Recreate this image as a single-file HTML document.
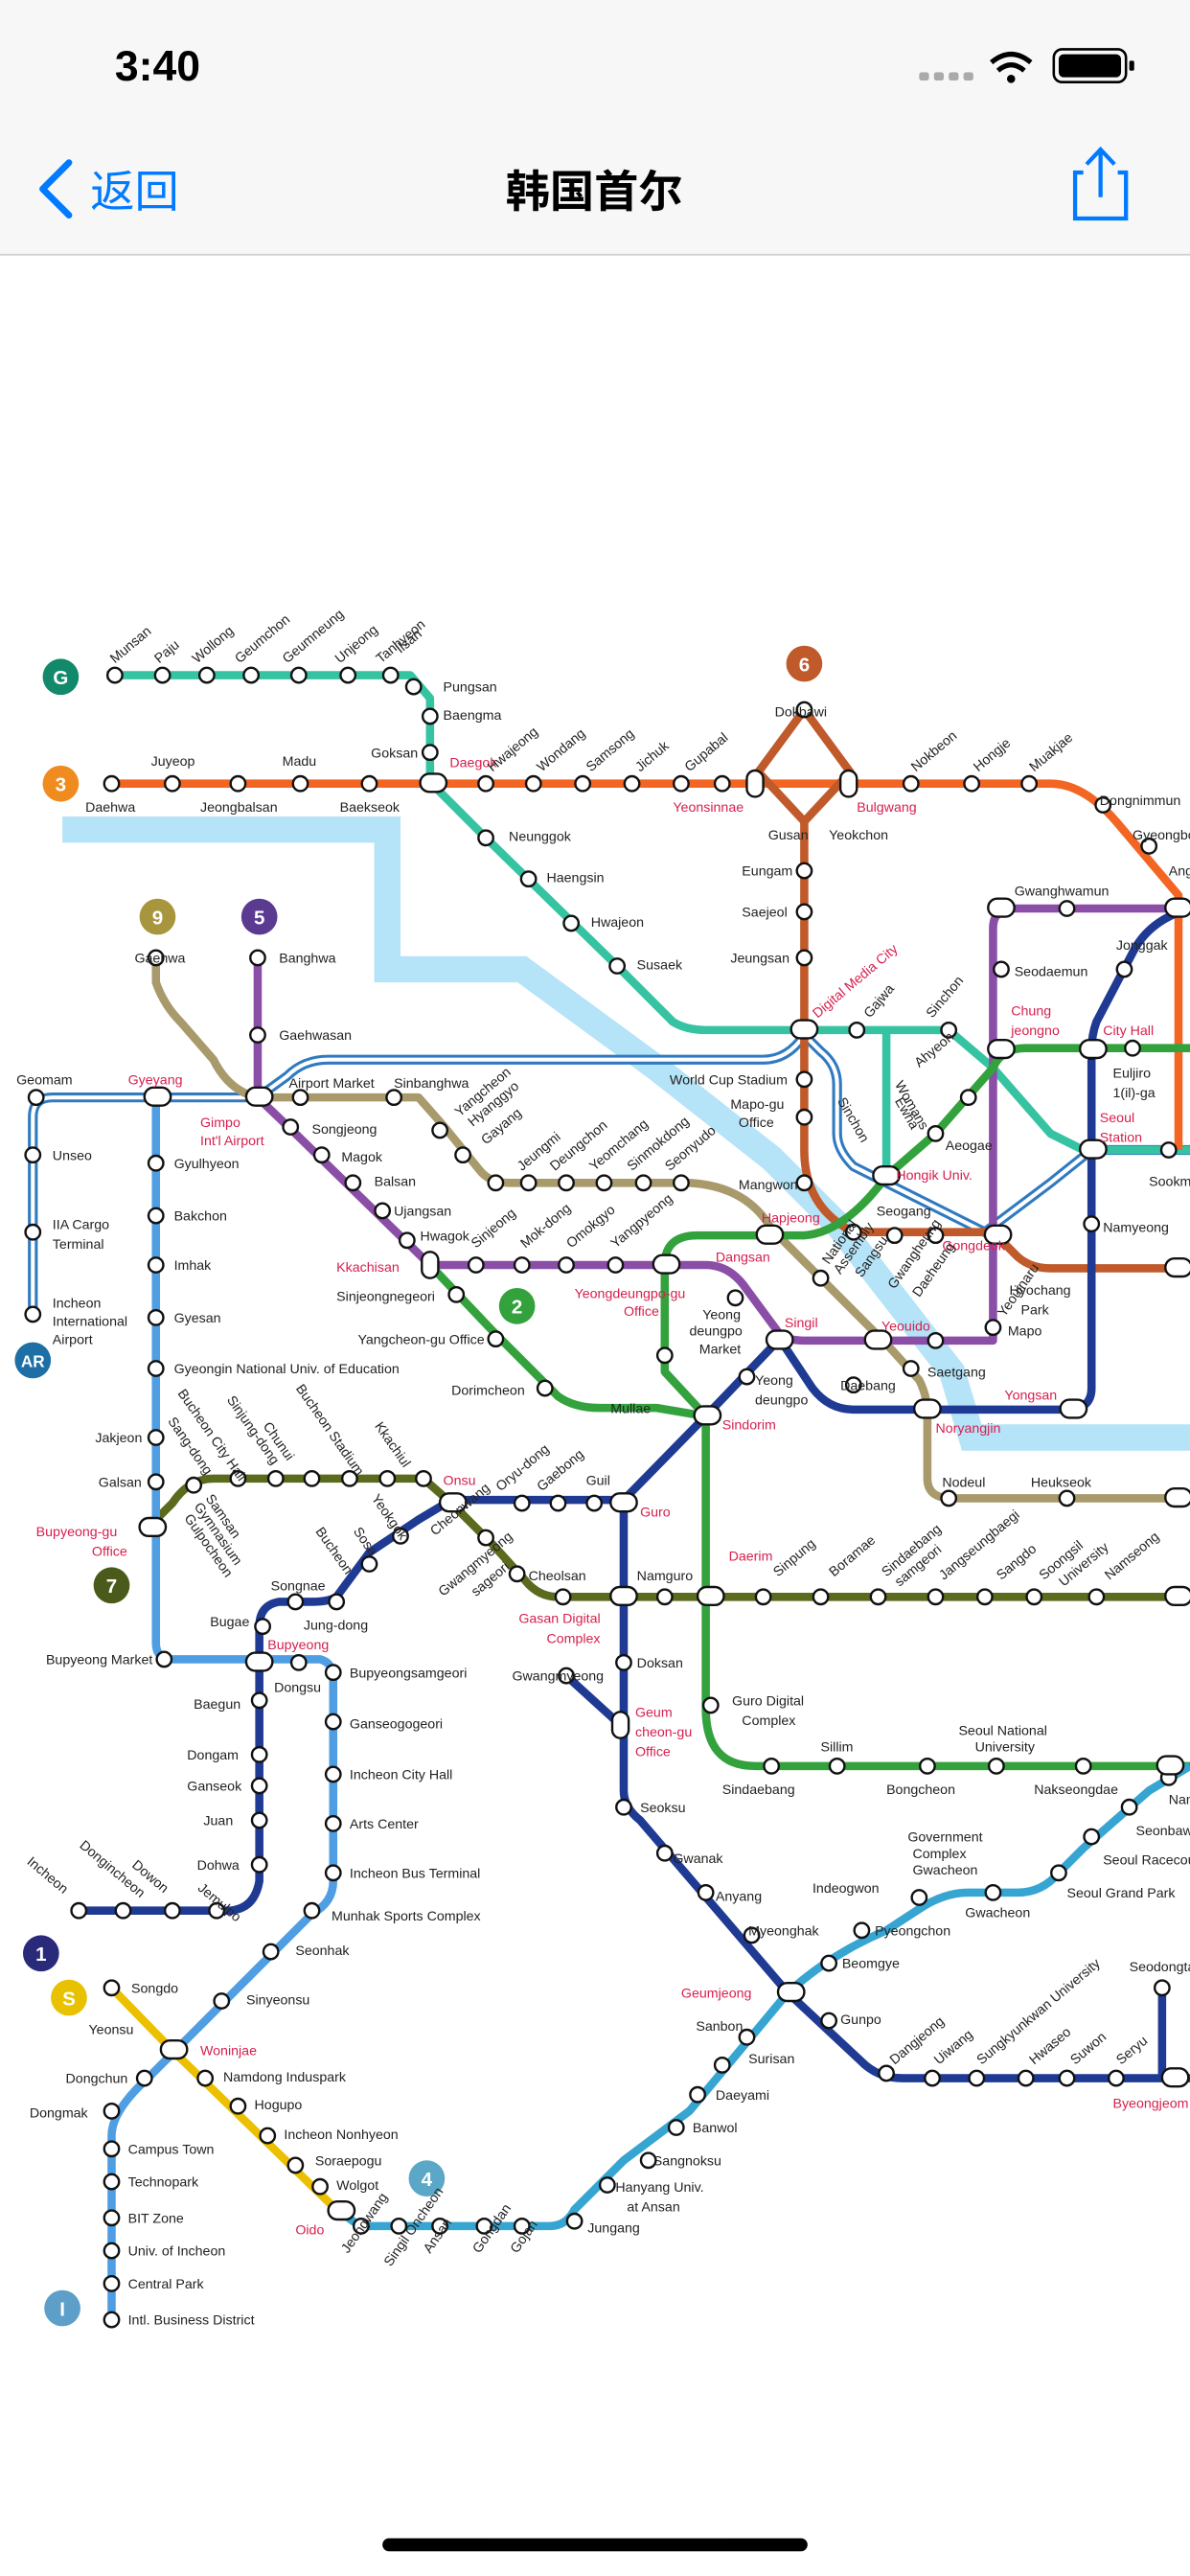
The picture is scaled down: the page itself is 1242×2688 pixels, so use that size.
<!DOCTYPE html>
<html><head><meta charset="utf-8"><style>
html,body{margin:0;padding:0;background:#fff;}
body{width:1242px;height:2688px;overflow:hidden;}
svg{display:block;}
text{font-family:"Liberation Sans","Noto Sans CJK SC",sans-serif;font-size:8.3px;fill:#222;}
.r{fill:#d6204e;}
.s{fill:#fff;stroke:#111;stroke-width:1.4;}
.o{fill:#fff;stroke:#111;stroke-width:1.4;}
.b{font-weight:bold;fill:#fff;font-size:12px;text-anchor:middle;}
</style></head><body>
<svg width="1242" height="2688" viewBox="0 0 725 1568" preserveAspectRatio="none">
<rect x="0" y="0" width="725" height="155" fill="#f7f7f7"/>
<line x1="0" y1="155" x2="725" y2="155" stroke="#cfcfcf" stroke-width="1"/>
<text x="70" y="49" style="font-size:26px;font-weight:bold;fill:#000">3:40</text>
<g fill="#aaa"><rect x="560" y="44" width="6" height="5" rx="1.5"/><rect x="569" y="44" width="6" height="5" rx="1.5"/><rect x="578" y="44" width="6" height="5" rx="1.5"/><rect x="587" y="44" width="6" height="5" rx="1.5"/></g>
<path d="M604,38 Q616,28 628,38" stroke="#000" stroke-width="3" fill="none"/><path d="M608,43 Q616,36 624,43" stroke="#000" stroke-width="3" fill="none"/><circle cx="616" cy="48" r="2.5" fill="#000"/>
<rect x="642" y="30" width="44" height="20" rx="5" fill="none" stroke="#000" stroke-width="1.5"/><rect x="645" y="33" width="38" height="14" rx="3" fill="#000"/><rect x="688" y="37" width="3" height="6" rx="1" fill="#000"/>
<path d="M42,99 L26,115 L42,131" stroke="#007aff" stroke-width="4" fill="none" stroke-linecap="round" stroke-linejoin="round"/>
<text x="55" y="126" style="font-size:27px;fill:#007aff">返回</text>
<text x="362" y="126" text-anchor="middle" style="font-size:27px;font-weight:bold;fill:#000">韩国首尔</text>
<path d="M660,105 H655 V133 H686 V105 H681" stroke="#007aff" stroke-width="2.5" fill="none"/><path d="M670.5,120 V92 M662,100 L670.5,91 L679,100" stroke="#007aff" stroke-width="2.5" fill="none"/>

<!-- river -->
<path d="M38,505 H236 V590 H318 L400,650 L470,705 L510,745 L545,790 L580,835 L592,875 H725" stroke="#b5e3f8" stroke-width="16" fill="none"/>

<g fill="none" stroke-linejoin="round" stroke-width="5">
<!-- AREX -->
<path d="M20,800 V680 Q20,668 32,668 H157 L175,655 Q185,645 200,645 H465 Q480,645 490,630 L500,640 Q510,648 510,660 V690 Q510,700 520,710 L600,750 L640,720 L665,700 H725" stroke="#2f7ac0" stroke-width="6"/>
<path d="M20,800 V680 Q20,668 32,668 H157 L175,655 Q185,645 200,645 H465 Q480,645 490,630 L500,640 Q510,648 510,660 V690 Q510,700 520,710 L600,750 L640,720 L665,700 H725" stroke="#fff" stroke-width="2.4"/>
<!-- G -->
<path d="M65,411 H250 L262,425 V476 L296,510 L376,588 L410,622 Q418,627 430,627 H578 L605,650 L640,690 L660,700 H725" stroke="#35c3a2"/>
<path d="M540,627 V716" stroke="#35c3a2"/>
<!-- 3 -->
<path d="M65,477 H640 Q660,477 680,500 L718,545 V700" stroke="#f26522"/>
<!-- 6 -->
<path d="M490,432 L462,470 L490,500 L518,470 Z" stroke="#c05a2a"/>
<path d="M490,500 V700 Q490,735 520,750 H605 L620,765 Q628,772 640,772 H725" stroke="#c05a2a"/>
<!-- 9 -->
<path d="M95,585 V598 Q100,612 110,622 L130,645 Q140,665 158,668 H255 L270,685 L292,712 Q298,720 310,720 H420 Q455,722 470,748 L500,778 L540,818 L560,840 Q565,850 565,860 V900 Q565,912 580,912 H725" stroke="#a99a6c"/>
<!-- 5 -->
<path d="M157,583 V668 L180,690 L262,770 H430 Q445,770 455,785 L475,812 Q480,816 490,816 H605 V565 Q605,553 618,553 H725" stroke="#8b4ea6"/>
<!-- 2 -->
<path d="M262,770 L300,810 L340,850 Q350,857 365,857 H400 L430,862" stroke="#33a23d"/>
<path d="M430,862 L405,835 V770 Q405,752 425,752 H490 Q515,750 540,716 L570,690 L605,650 Q610,638 625,638 H725" stroke="#33a23d"/>
<path d="M430,862 V1040 Q430,1075 460,1075 H725" stroke="#33a23d"/>
<!-- 7 -->
<path d="M90,930 L105,915 Q115,900 130,900 H258 L275,915 L300,940 L320,962 Q328,972 340,972 H725" stroke="#5b6b1e"/>
<!-- 4 -->
<path d="M725,1075 L700,1090 L660,1125 L645,1140 Q635,1152 620,1152 H590 Q575,1152 560,1162 L540,1175 Q505,1190 480,1213 L420,1285 L380,1315 L350,1345 Q345,1355 335,1355 H225 Q215,1355 208,1345" stroke="#36a5d2"/>
<!-- I1 -->
<path d="M95,668 V1000 Q95,1010 105,1010 H195 Q203,1012 203,1022 V1145 Q203,1158 190,1165 L90,1265 Q68,1285 68,1300 V1412" stroke="#4f9ee3"/>
<!-- Suin -->
<path d="M68,1210 L105,1248 L208,1348" stroke="#ecc000"/>
<!-- 1 -->
<path d="M725,553 Q700,560 690,580 L668,622 Q665,630 665,640 V845 Q665,858 650,858 H520 Q505,858 495,845 L475,815 L430,862 L380,913 V1090 Q380,1100 390,1108 L480,1213 L525,1255 Q535,1265 550,1265 H725" stroke="#1f3a93"/>
<path d="M380,913 H275 L255,925 L225,945 L205,972 Q200,975 190,975 H170 Q158,977 158,990 V1145 Q155,1162 140,1163 H45" stroke="#1f3a93"/>
<path d="M345,1020 L378,1050 M708,1210 V1265" stroke="#1f3a93"/>
</g>

<!-- stations -->
<g class="s">
<circle cx="70" cy="411" r="4.5"/><circle cx="99" cy="411" r="4.5"/><circle cx="126" cy="411" r="4.5"/><circle cx="153" cy="411" r="4.5"/><circle cx="182" cy="411" r="4.5"/><circle cx="212" cy="411" r="4.5"/><circle cx="238" cy="411" r="4.5"/><circle cx="252" cy="418" r="4.5"/><circle cx="262" cy="436" r="4.5"/><circle cx="262" cy="458" r="4.5"/>
<circle cx="296" cy="510" r="4.5"/><circle cx="322" cy="535" r="4.5"/><circle cx="348" cy="562" r="4.5"/><circle cx="376" cy="588" r="4.5"/><circle cx="522" cy="627" r="4.5"/><circle cx="578" cy="627" r="4.5"/>
<circle cx="68" cy="477" r="4.5"/><circle cx="105" cy="477" r="4.5"/><circle cx="145" cy="477" r="4.5"/><circle cx="183" cy="477" r="4.5"/><circle cx="225" cy="477" r="4.5"/><circle cx="296" cy="477" r="4.5"/><circle cx="325" cy="477" r="4.5"/><circle cx="355" cy="477" r="4.5"/><circle cx="385" cy="477" r="4.5"/><circle cx="415" cy="477" r="4.5"/><circle cx="440" cy="477" r="4.5"/><circle cx="555" cy="477" r="4.5"/><circle cx="592" cy="477" r="4.5"/><circle cx="627" cy="477" r="4.5"/><circle cx="672" cy="490" r="4.5"/><circle cx="700" cy="515" r="4.5"/>
<circle cx="490" cy="432" r="4.5"/><circle cx="490" cy="530" r="4.5"/><circle cx="490" cy="555" r="4.5"/><circle cx="490" cy="583" r="4.5"/><circle cx="490" cy="657" r="4.5"/><circle cx="490" cy="680" r="4.5"/><circle cx="490" cy="720" r="4.5"/><circle cx="520" cy="750" r="4.5"/><circle cx="545" cy="752" r="4.5"/><circle cx="570" cy="752" r="4.5"/>
<circle cx="95" cy="583" r="4.5"/><circle cx="183" cy="668" r="4.5"/><circle cx="240" cy="668" r="4.5"/><circle cx="268" cy="688" r="4.5"/><circle cx="282" cy="703" r="4.5"/><circle cx="302" cy="720" r="4.5"/><circle cx="322" cy="720" r="4.5"/><circle cx="345" cy="720" r="4.5"/><circle cx="368" cy="720" r="4.5"/><circle cx="392" cy="720" r="4.5"/><circle cx="415" cy="720" r="4.5"/><circle cx="500" cy="778" r="4.5"/><circle cx="555" cy="833" r="4.5"/><circle cx="578" cy="912" r="4.5"/><circle cx="650" cy="912" r="4.5"/>
<circle cx="157" cy="583" r="4.5"/><circle cx="157" cy="630" r="4.5"/><circle cx="177" cy="686" r="4.5"/><circle cx="196" cy="703" r="4.5"/><circle cx="215" cy="720" r="4.5"/><circle cx="233" cy="737" r="4.5"/><circle cx="248" cy="755" r="4.5"/><circle cx="290" cy="770" r="4.5"/><circle cx="318" cy="770" r="4.5"/><circle cx="345" cy="770" r="4.5"/><circle cx="375" cy="770" r="4.5"/><circle cx="448" cy="790" r="4.5"/><circle cx="570" cy="816" r="4.5"/><circle cx="605" cy="808" r="4.5"/><circle cx="610" cy="590" r="4.5"/><circle cx="650" cy="553" r="4.5"/>
<circle cx="278" cy="788" r="4.5"/><circle cx="302" cy="815" r="4.5"/><circle cx="332" cy="845" r="4.5"/><circle cx="405" cy="825" r="4.5"/><circle cx="570" cy="690" r="4.5"/><circle cx="590" cy="668" r="4.5"/><circle cx="690" cy="638" r="4.5"/>
<circle cx="433" cy="1038" r="4.5"/><circle cx="470" cy="1075" r="4.5"/><circle cx="510" cy="1075" r="4.5"/><circle cx="565" cy="1075" r="4.5"/><circle cx="607" cy="1075" r="4.5"/><circle cx="660" cy="1075" r="4.5"/><circle cx="712" cy="1075" r="4.5"/>
<circle cx="685" cy="590" r="4.5"/><circle cx="665" cy="745" r="4.5"/><circle cx="520" cy="843" r="4.5"/><circle cx="455" cy="838" r="4.5"/><circle cx="362" cy="915" r="4.5"/><circle cx="340" cy="915" r="4.5"/><circle cx="318" cy="915" r="4.5"/><circle cx="244" cy="935" r="4.5"/><circle cx="225" cy="952" r="4.5"/><circle cx="205" cy="975" r="4.5"/><circle cx="180" cy="975" r="4.5"/><circle cx="160" cy="990" r="4.5"/>
<circle cx="158" cy="1035" r="4.5"/><circle cx="158" cy="1068" r="4.5"/><circle cx="158" cy="1087" r="4.5"/><circle cx="158" cy="1108" r="4.5"/><circle cx="158" cy="1135" r="4.5"/><circle cx="132" cy="1163" r="4.5"/><circle cx="105" cy="1163" r="4.5"/><circle cx="75" cy="1163" r="4.5"/><circle cx="48" cy="1163" r="4.5"/>
<circle cx="380" cy="1012" r="4.5"/><circle cx="345" cy="1020" r="4.5"/><circle cx="380" cy="1100" r="4.5"/><circle cx="405" cy="1128" r="4.5"/><circle cx="430" cy="1152" r="4.5"/><circle cx="458" cy="1178" r="4.5"/><circle cx="505" cy="1230" r="4.5"/><circle cx="540" cy="1262" r="4.5"/><circle cx="568" cy="1265" r="4.5"/><circle cx="595" cy="1265" r="4.5"/><circle cx="625" cy="1265" r="4.5"/><circle cx="650" cy="1265" r="4.5"/><circle cx="680" cy="1265" r="4.5"/><circle cx="708" cy="1210" r="4.5"/>
<circle cx="118" cy="904" r="4.5"/><circle cx="145" cy="900" r="4.5"/><circle cx="168" cy="900" r="4.5"/><circle cx="190" cy="900" r="4.5"/><circle cx="213" cy="900" r="4.5"/><circle cx="236" cy="900" r="4.5"/><circle cx="258" cy="900" r="4.5"/><circle cx="296" cy="936" r="4.5"/><circle cx="315" cy="958" r="4.5"/><circle cx="343" cy="972" r="4.5"/><circle cx="405" cy="972" r="4.5"/><circle cx="465" cy="972" r="4.5"/><circle cx="500" cy="972" r="4.5"/><circle cx="535" cy="972" r="4.5"/><circle cx="570" cy="972" r="4.5"/><circle cx="600" cy="972" r="4.5"/><circle cx="630" cy="972" r="4.5"/><circle cx="668" cy="972" r="4.5"/>
<circle cx="712" cy="1082" r="4.5"/><circle cx="688" cy="1100" r="4.5"/><circle cx="665" cy="1118" r="4.5"/><circle cx="645" cy="1140" r="4.5"/><circle cx="605" cy="1152" r="4.5"/><circle cx="560" cy="1155" r="4.5"/><circle cx="525" cy="1175" r="4.5"/><circle cx="505" cy="1195" r="4.5"/><circle cx="455" cy="1240" r="4.5"/><circle cx="440" cy="1257" r="4.5"/><circle cx="425" cy="1275" r="4.5"/><circle cx="412" cy="1295" r="4.5"/><circle cx="395" cy="1315" r="4.5"/><circle cx="370" cy="1330" r="4.5"/><circle cx="350" cy="1352" r="4.5"/><circle cx="318" cy="1355" r="4.5"/><circle cx="295" cy="1355" r="4.5"/><circle cx="268" cy="1355" r="4.5"/><circle cx="243" cy="1355" r="4.5"/><circle cx="220" cy="1355" r="4.5"/>
<circle cx="95" cy="708" r="4.5"/><circle cx="95" cy="740" r="4.5"/><circle cx="95" cy="770" r="4.5"/><circle cx="95" cy="802" r="4.5"/><circle cx="95" cy="833" r="4.5"/><circle cx="95" cy="875" r="4.5"/><circle cx="95" cy="902" r="4.5"/><circle cx="100" cy="1010" r="4.5"/><circle cx="182" cy="1012" r="4.5"/><circle cx="203" cy="1018" r="4.5"/><circle cx="203" cy="1048" r="4.5"/><circle cx="203" cy="1080" r="4.5"/><circle cx="203" cy="1110" r="4.5"/><circle cx="203" cy="1140" r="4.5"/><circle cx="190" cy="1163" r="4.5"/><circle cx="165" cy="1188" r="4.5"/><circle cx="135" cy="1218" r="4.5"/><circle cx="88" cy="1265" r="4.5"/><circle cx="68" cy="1285" r="4.5"/><circle cx="68" cy="1308" r="4.5"/><circle cx="68" cy="1328" r="4.5"/><circle cx="68" cy="1350" r="4.5"/><circle cx="68" cy="1370" r="4.5"/><circle cx="68" cy="1390" r="4.5"/><circle cx="68" cy="1412" r="4.5"/>
<circle cx="68" cy="1210" r="4.5"/><circle cx="125" cy="1265" r="4.5"/><circle cx="145" cy="1282" r="4.5"/><circle cx="163" cy="1300" r="4.5"/><circle cx="180" cy="1318" r="4.5"/><circle cx="195" cy="1331" r="4.5"/>
<circle cx="22" cy="668" r="4.5"/><circle cx="20" cy="703" r="4.5"/><circle cx="20" cy="750" r="4.5"/><circle cx="20" cy="800" r="4.5"/>
<circle cx="665" cy="640" r="4.5"/><circle cx="712" cy="700" r="4.5"/>
</g>
<!-- interchanges (ovals) -->
<g class="o">
<rect x="256" y="471" width="16" height="11" rx="5.5"/><rect x="455" y="469" width="10" height="16" rx="5"/><rect x="512" y="469" width="10" height="16" rx="5"/>
<rect x="482" y="621" width="16" height="11" rx="5.5"/><rect x="88" y="662" width="16" height="11" rx="5.5"/><rect x="150" y="662" width="16" height="11" rx="5.5"/>
<rect x="257" y="762" width="10" height="16" rx="5"/><rect x="398" y="764" width="16" height="11" rx="5.5"/><rect x="461" y="746" width="16" height="11" rx="5.5"/>
<rect x="532" y="710" width="16" height="11" rx="5.5"/><rect x="600" y="746" width="16" height="11" rx="5.5"/><rect x="602" y="633" width="16" height="11" rx="5.5"/><rect x="602" y="547" width="16" height="11" rx="5.5"/>
<rect x="658" y="633" width="16" height="11" rx="5.5"/><rect x="658" y="694" width="16" height="11" rx="5.5"/><rect x="710" y="547" width="16" height="11" rx="5.5"/><rect x="646" y="852" width="16" height="11" rx="5.5"/>
<rect x="557" y="852" width="16" height="11" rx="5.5"/><rect x="467" y="810" width="16" height="11" rx="5.5"/><rect x="527" y="810" width="16" height="11" rx="5.5"/>
<rect x="423" y="856" width="16" height="11" rx="5.5"/><rect x="372" y="909" width="16" height="11" rx="5.5"/><rect x="268" y="909" width="16" height="11" rx="5.5"/>
<rect x="372" y="966" width="16" height="11" rx="5.5"/><rect x="425" y="966" width="16" height="11" rx="5.5"/><rect x="710" y="966" width="16" height="11" rx="5.5"/>
<rect x="373" y="1042" width="10" height="16" rx="5"/><rect x="474" y="1207" width="16" height="11" rx="5.5"/><rect x="708" y="1259" width="16" height="11" rx="5.5"/>
<rect x="150" y="1006" width="16" height="11" rx="5.5"/><rect x="85" y="924" width="16" height="11" rx="5.5"/><rect x="98" y="1242" width="16" height="11" rx="5.5"/><rect x="200" y="1340" width="16" height="11" rx="5.5"/>
<rect x="705" y="1069" width="16" height="11" rx="5.5"/><rect x="710" y="766" width="16" height="11" rx="5.5"/><rect x="710" y="906" width="16" height="11" rx="5.5"/>
</g>

<!-- badges -->
<g>
<circle cx="37" cy="412" r="11" fill="#12896a"/><text x="37" y="416.5" class="b">G</text>
<circle cx="37" cy="477" r="11" fill="#f08c1f"/><text x="37" y="481.5" class="b">3</text>
<circle cx="490" cy="404" r="11" fill="#c05a2a"/><text x="490" y="408.5" class="b">6</text>
<circle cx="96" cy="558" r="11" fill="#a8963f"/><text x="96" y="562.5" class="b">9</text>
<circle cx="158" cy="558" r="11" fill="#5b3a91"/><text x="158" y="562.5" class="b">5</text>
<circle cx="315" cy="795" r="11" fill="#33a23d"/><text x="315" y="799.5" class="b">2</text>
<circle cx="68" cy="965" r="11" fill="#4a5a1a"/><text x="68" y="969.5" class="b">7</text>
<circle cx="25" cy="1189" r="11" fill="#2a2a7a"/><text x="25" y="1193.5" class="b">1</text>
<circle cx="42" cy="1216" r="11" fill="#e8c200"/><text x="42" y="1220.5" class="b">S</text>
<circle cx="260" cy="1326" r="11" fill="#5aa7c8"/><text x="260" y="1330.5" class="b">4</text>
<circle cx="38" cy="1405" r="11" fill="#5d9fc9"/><text x="38" y="1409.5" class="b">I</text>
<circle cx="20" cy="828" r="11" fill="#1e6fa5"/><text x="20" y="832" class="b" style="font-size:10px">AR</text>
</g>

<!-- labels -->
<g>
<text transform="translate(70,404) rotate(-40)">Munsan</text><text transform="translate(97,404) rotate(-40)">Paju</text><text transform="translate(120,404) rotate(-40)">Wollong</text><text transform="translate(146,404) rotate(-40)">Geumchon</text><text transform="translate(175,404) rotate(-40)">Geumneung</text><text transform="translate(207,404) rotate(-40)">Unjeong</text><text transform="translate(232,404) rotate(-40)">Tanhyeon</text><text transform="translate(244,398) rotate(-40)">Ilsan</text>
<text x="270" y="421">Pungsan</text><text x="270" y="438">Baengma</text><text x="226" y="461">Goksan</text><text x="274" y="467" class="r">Daegok</text>
<text x="310" y="512">Neunggok</text><text x="333" y="537">Haengsin</text><text x="360" y="564">Hwajeon</text><text x="388" y="590">Susaek</text>
<text x="52" y="494">Daehwa</text><text x="92" y="466">Juyeop</text><text x="122" y="494">Jeongbalsan</text><text x="172" y="466">Madu</text><text x="207" y="494">Baekseok</text>
<text transform="translate(300,470) rotate(-40)">Hwajeong</text><text transform="translate(330,470) rotate(-40)">Wondang</text><text transform="translate(360,470) rotate(-40)">Samsong</text><text transform="translate(390,470) rotate(-40)">Jichuk</text><text transform="translate(420,470) rotate(-40)">Gupabal</text>
<text x="410" y="494" class="r">Yeonsinnae</text><text x="522" y="494" class="r">Bulgwang</text><text x="468" y="511">Gusan</text><text x="505" y="511">Yeokchon</text><text x="472" y="436">Dokbawi</text>
<text transform="translate(558,470) rotate(-40)">Nokbeon</text><text transform="translate(596,470) rotate(-40)">Hongje</text><text transform="translate(630,470) rotate(-40)">Muakjae</text><text x="670" y="490">Dongnimmun</text><text x="690" y="511">Gyeongbokgung</text><text x="712" y="533">Anguk</text>
<text x="452" y="533">Eungam</text><text x="452" y="558">Saejeol</text><text x="445" y="586">Jeungsan</text>
<text transform="translate(498,620) rotate(-40)" class="r">Digital Media City</text><text transform="translate(530,620) rotate(-50)">Gajwa</text><text transform="translate(568,620) rotate(-50)">Sinchon</text>
<text x="408" y="660">World Cup Stadium</text><text x="445" y="675">Mapo-gu</text><text x="450" y="686">Office</text><text x="450" y="724">Mangwon</text><text x="464" y="744" class="r">Hapjeong</text>
<text x="436" y="768" class="r">Dangsan</text><text x="534" y="740">Seogang</text><text x="574" y="761" class="r">Gongdeok</text><text x="546" y="718" class="r">Hongik Univ.</text>
<text x="82" y="586">Gaehwa</text><text x="170" y="586">Banghwa</text><text x="170" y="633">Gaehwasan</text><text x="176" y="662">Airport Market</text><text x="240" y="662">Sinbanghwa</text>
<text x="122" y="686" class="r">Gimpo</text><text x="122" y="697" class="r">Int'l Airport</text><text x="190" y="690">Songjeong</text><text x="208" y="707">Magok</text><text x="228" y="722">Balsan</text><text x="240" y="740">Ujangsan</text><text x="256" y="755">Hwagok</text>
<text x="205" y="774" class="r">Kkachisan</text><text x="205" y="792">Sinjeongnegeori</text><text x="218" y="818">Yangcheon-gu Office</text><text x="275" y="849">Dorimcheon</text><text x="372" y="860">Mullae</text>
<text transform="translate(290,760) rotate(-40)">Sinjeong</text><text transform="translate(320,760) rotate(-40)">Mok-dong</text><text transform="translate(348,760) rotate(-40)">Omokgyo</text><text transform="translate(375,760) rotate(-40)">Yangpyeong</text>
<text transform="translate(280,680) rotate(-40)">Yangcheon</text><text transform="translate(288,686) rotate(-40)">Hyanggyo</text><text transform="translate(296,697) rotate(-40)">Gayang</text><text transform="translate(318,713) rotate(-40)">Jeungmi</text><text transform="translate(338,713) rotate(-40)">Deungchon</text><text transform="translate(362,713) rotate(-40)">Yeomchang</text><text transform="translate(385,713) rotate(-40)">Sinmokdong</text><text transform="translate(408,713) rotate(-40)">Seonyudo</text>
<text x="350" y="790" class="r">Yeongdeungpo-gu</text><text x="380" y="801" class="r">Office</text><text x="428" y="803">Yeong</text><text x="420" y="813">deungpo</text><text x="426" y="824">Market</text>
<text x="478" y="808" class="r">Singil</text><text x="537" y="810" class="r">Yeouido</text><text x="614" y="813">Mapo</text><text x="565" y="838">Saetgang</text><text x="512" y="846">Daebang</text><text x="460" y="843">Yeong</text><text x="460" y="855">deungpo</text>
<text x="440" y="870" class="r">Sindorim</text><text x="570" y="872" class="r">Noryangjin</text><text x="612" y="852" class="r">Yongsan</text><text x="574" y="905">Nodeul</text><text x="628" y="905">Heukseok</text>
<text transform="translate(505,770) rotate(-55)">National</text><text transform="translate(512,776) rotate(-55)">Assembly</text><text transform="translate(525,778) rotate(-55)">Sangsu</text><text transform="translate(545,785) rotate(-55)">Gwangheung</text><text transform="translate(560,790) rotate(-55)">Daeheung</text><text transform="translate(612,802) rotate(-55)">Yeouinaru</text>
<text x="618" y="594">Seodaemun</text><text x="616" y="618" class="r">Chung</text><text x="616" y="630" class="r">jeongno</text><text x="618" y="545">Gwanghwamun</text><text x="680" y="578">Jonggak</text>
<text x="672" y="630" class="r">City Hall</text><text x="678" y="656">Euljiro</text><text x="678" y="668">1(il)-ga</text><text x="670" y="683" class="r">Seoul</text><text x="670" y="695" class="r">Station</text><text x="700" y="722">Sookm</text><text x="672" y="750">Namyeong</text><text x="615" y="788">Hyochang</text><text x="622" y="800">Park</text>
<text transform="translate(560,650) rotate(-40)">Ahyeon</text><text transform="translate(545,670) rotate(60)">Ewha</text><text transform="translate(545,660) rotate(60)">Womans</text><text transform="translate(510,670) rotate(60)">Sinchon</text><text x="576" y="700">Aeogae</text>
<text x="10" y="660">Geomam</text><text x="78" y="660" class="r">Gyeyang</text><text x="32" y="706">Unseo</text><text x="32" y="748">IIA Cargo</text><text x="32" y="760">Terminal</text><text x="32" y="796">Incheon</text><text x="32" y="807">International</text><text x="32" y="818">Airport</text>
<text x="106" y="711">Gyulhyeon</text><text x="106" y="743">Bakchon</text><text x="106" y="773">Imhak</text><text x="106" y="805">Gyesan</text><text x="106" y="836">Gyeongin National Univ. of Education</text><text x="58" y="878">Jakjeon</text><text x="60" y="905">Galsan</text>
<text x="22" y="935" class="r">Bupyeong-gu</text><text x="56" y="947" class="r">Office</text><text x="28" y="1013">Bupyeong Market</text>
<text transform="translate(108,848) rotate(55)">Bucheon City Hall</text><text transform="translate(102,865) rotate(55)">Sang-dong</text><text transform="translate(138,852) rotate(55)">Sinjung-dong</text><text transform="translate(160,868) rotate(55)">Chunui</text><text transform="translate(180,845) rotate(55)">Bucheon Stadium</text><text transform="translate(228,868) rotate(55)">Kkachiul</text>
<text transform="translate(125,912) rotate(55)">Samsan</text><text transform="translate(118,917) rotate(55)">Gymnasium</text><text transform="translate(112,924) rotate(55)">Gulpocheon</text>
<text x="270" y="904" class="r">Onsu</text><text transform="translate(305,908) rotate(-40)">Oryu-dong</text><text transform="translate(330,908) rotate(-40)">Gaebong</text><text x="357" y="904">Guil</text><text x="390" y="923" class="r">Guro</text>
<text transform="translate(226,912) rotate(55)">Yeokgok</text><text transform="translate(215,932) rotate(55)">Sosa</text><text transform="translate(192,932) rotate(55)">Bucheon</text><text x="165" y="968">Songnae</text><text x="185" y="992">Jung-dong</text><text x="128" y="990">Bugae</text><text x="163" y="1004" class="r">Bupyeong</text>
<text x="167" y="1030">Dongsu</text><text x="213" y="1021">Bupyeongsamgeori</text><text x="213" y="1052">Ganseogogeori</text><text x="213" y="1083">Incheon City Hall</text><text x="213" y="1113">Arts Center</text><text x="213" y="1143">Incheon Bus Terminal</text><text x="202" y="1169">Munhak Sports Complex</text><text x="180" y="1190">Seonhak</text><text x="150" y="1220">Sinyeonsu</text>
<text x="118" y="1040">Baegun</text><text x="114" y="1071">Dongam</text><text x="114" y="1090">Ganseok</text><text x="124" y="1111">Juan</text><text x="120" y="1138">Dohwa</text>
<text transform="translate(120,1150) rotate(40)">Jemulpo</text><text transform="translate(80,1136) rotate(40)">Dowon</text><text transform="translate(48,1124) rotate(40)">Dongincheon</text><text transform="translate(16,1134) rotate(40)">Incheon</text>
<text transform="translate(265,935) rotate(-40)">Cheonwang</text><text transform="translate(270,972) rotate(-40)">Gwangmyeong</text><text transform="translate(290,972) rotate(-40)">sageori</text><text x="322" y="962">Cheolsan</text><text x="316" y="988" class="r">Gasan Digital</text><text x="333" y="1000" class="r">Complex</text>
<text x="388" y="962">Namguro</text><text x="444" y="950" class="r">Daerim</text><text transform="translate(474,960) rotate(-40)">Sinpung</text><text transform="translate(508,960) rotate(-40)">Boramae</text><text transform="translate(540,960) rotate(-40)">Sindaebang</text><text transform="translate(548,966) rotate(-40)">samgeori</text><text transform="translate(575,962) rotate(-40)">Jangseungbaegi</text><text transform="translate(610,962) rotate(-40)">Sangdo</text><text transform="translate(636,962) rotate(-40)">Soongsil</text><text transform="translate(648,966) rotate(-40)">University</text><text transform="translate(676,962) rotate(-40)">Namseong</text>
<text x="388" y="1015">Doksan</text><text x="312" y="1023">Gwangmyeong</text><text x="387" y="1045" class="r">Geum</text><text x="387" y="1057" class="r">cheon-gu</text><text x="387" y="1069" class="r">Office</text><text x="390" y="1103">Seoksu</text>
<text x="446" y="1038">Guro Digital</text><text x="452" y="1050">Complex</text><text x="440" y="1092">Sindaebang</text><text x="500" y="1066">Sillim</text><text x="540" y="1092">Bongcheon</text><text x="584" y="1056">Seoul National</text><text x="594" y="1066">University</text><text x="630" y="1092">Nakseongdae</text>
<text x="410" y="1134">Gwanak</text><text x="436" y="1157">Anyang</text><text x="456" y="1178">Myeonghak</text><text x="415" y="1216" class="r">Geumjeong</text><text x="424" y="1236">Sanbon</text><text x="456" y="1256">Surisan</text><text x="436" y="1278">Daeyami</text><text x="422" y="1298">Banwol</text><text x="398" y="1318">Sangnoksu</text><text x="375" y="1334">Hanyang Univ.</text><text x="382" y="1346">at Ansan</text><text x="358" y="1359">Jungang</text>
<text x="513" y="1198">Beomgye</text><text x="533" y="1178">Pyeongchon</text><text x="495" y="1152">Indeogwon</text><text x="553" y="1121">Government</text><text x="556" y="1131">Complex</text><text x="556" y="1141">Gwacheon</text><text x="588" y="1167">Gwacheon</text><text x="650" y="1155">Seoul Grand Park</text><text x="672" y="1135">Seoul Racecourse</text><text x="692" y="1117">Seonbawi</text><text x="712" y="1098">Nam</text>
<text x="512" y="1232">Gunpo</text><text transform="translate(545,1257) rotate(-40)">Dangjeong</text><text transform="translate(572,1257) rotate(-40)">Uiwang</text><text transform="translate(598,1257) rotate(-40)">Sungkyunkwan University</text><text transform="translate(630,1257) rotate(-40)">Hwaseo</text><text transform="translate(655,1257) rotate(-40)">Suwon</text><text transform="translate(683,1257) rotate(-40)">Seryu</text><text x="688" y="1200">Seodongtan</text><text x="678" y="1283" class="r">Byeongjeom</text>
<text transform="translate(212,1372) rotate(-55)">Jeongwang</text><text transform="translate(238,1380) rotate(-55)">Singil Oncheon</text><text transform="translate(262,1372) rotate(-55)">Ansan</text><text transform="translate(292,1372) rotate(-55)">Gongdan</text><text transform="translate(315,1372) rotate(-55)">Gojan</text><text x="180" y="1360" class="r">Oido</text>
<text x="80" y="1213">Songdo</text><text x="54" y="1238">Yeonsu</text><text x="122" y="1251" class="r">Woninjae</text><text x="40" y="1268">Dongchun</text><text x="18" y="1289">Dongmak</text><text x="136" y="1267">Namdong Induspark</text><text x="155" y="1284">Hogupo</text><text x="173" y="1302">Incheon Nonhyeon</text><text x="192" y="1318">Soraepogu</text><text x="205" y="1333">Wolgot</text>
<text x="78" y="1311">Campus Town</text><text x="78" y="1331">Technopark</text><text x="78" y="1353">BIT Zone</text><text x="78" y="1373">Univ. of Incheon</text><text x="78" y="1393">Central Park</text><text x="78" y="1415">Intl. Business District</text>
</g>
<rect x="233" y="1545" width="259" height="8" rx="4" fill="#000"/>
</svg>
</body></html>
